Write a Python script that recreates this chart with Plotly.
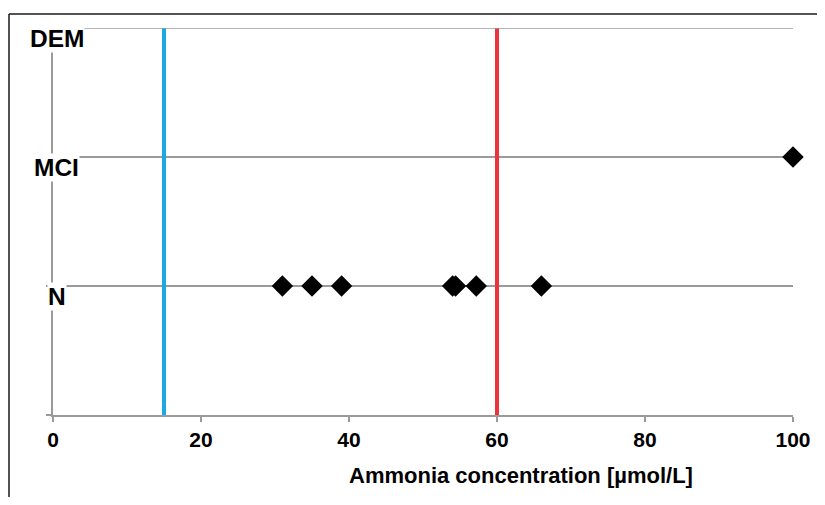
import plotly.graph_objects as go

categories = ["N", "MCI", "DEM"]
cat_pos = [1, 2, 3]
n_values = [31, 35, 39, 54, 54.4, 57.2, 66]
mci_values = [100]
dem_values = []
lower_limit = 15
upper_limit = 60
x_ticks = [0, 20, 40, 60, 80, 100]
x_title = "Ammonia concentration [µmol/L]"

FONT = "Liberation Sans, Arial, sans-serif"

# figure sits at an 8px page offset; geometry in figure pixels
W, H = 809, 489
L, R, T, B = 45, 24, 20, 82
PW, PH = W - L - R, H - T - B

fig = go.Figure()

# threshold lines
fig.add_trace(go.Scatter(x=[lower_limit, lower_limit], y=[0, 3], mode="lines",
                         line=dict(color="#1BA9E1", width=4), showlegend=False, hoverinfo="skip"))
fig.add_trace(go.Scatter(x=[upper_limit, upper_limit], y=[0, 3], mode="lines",
                         line=dict(color="#EE3338", width=4), showlegend=False, hoverinfo="skip"))

# top category gridline (plotly skips the gridline on the range edge)
fig.add_trace(go.Scatter(x=[0, 100], y=[cat_pos[2], cat_pos[2]], mode="lines",
                         line=dict(color="#9a9a9a", width=1.5), showlegend=False,
                         hoverinfo="skip", cliponaxis=False))

marker = dict(symbol="diamond", size=16.5, color="black")
fig.add_trace(go.Scatter(x=n_values, y=[cat_pos[0]] * len(n_values), mode="markers",
                         marker=marker, showlegend=False, cliponaxis=False))
fig.add_trace(go.Scatter(x=mci_values, y=[cat_pos[1]] * len(mci_values), mode="markers",
                         marker=marker, showlegend=False, cliponaxis=False))

for lab, pos in zip(categories, cat_pos):
    fig.add_annotation(x=0.5, y=pos, xref="x", yref="y", text=f"<b>{lab}</b>",
                       showarrow=False, xanchor="center", yanchor="middle", yshift=-10,
                       font=dict(family=FONT, size=24.5, color="black"),
                       bgcolor="white", borderpad=0)

fig.add_annotation(x=(513 - L) / PW, y=(PH - (468 - T)) / PH, xref="paper", yref="paper",
                   text=f"<b>{x_title}</b>", showarrow=False, xanchor="center", yanchor="middle",
                   font=dict(family=FONT, size=22, color="black"))

# partial frame (top and left)
fx = (1 - L) / PW
fy = (PH - (6 - T)) / PH
fig.add_shape(type="line", xref="paper", yref="paper", x0=fx, x1=1.1,
              y0=fy, y1=fy, line=dict(color="#1a1a1a", width=1.5))
fig.add_shape(type="line", xref="paper", yref="paper", x0=fx, x1=fx,
              y0=fy, y1=-0.3, line=dict(color="#1a1a1a", width=1.5))

fig.update_xaxes(range=[0, 100], tickvals=x_ticks, ticktext=[f"<b>{t}</b>" for t in x_ticks],
                 tickfont=dict(family=FONT, size=21, color="black"), automargin=False,
                 showgrid=False, zeroline=False, showline=True, linecolor="#9a9a9a", linewidth=1.5,
                 ticks="outside", ticklen=5, tickcolor="#9a9a9a", tickwidth=1.5)
fig.update_yaxes(range=[0, 3], tickvals=[0, 1, 2, 3], showticklabels=False, automargin=False,
                 showgrid=True, gridcolor="#9a9a9a", gridwidth=1.5, zeroline=False,
                 showline=True, linecolor="#9a9a9a", linewidth=1.5,
                 ticks="outside", ticklen=5, tickcolor="#9a9a9a", tickwidth=1.5)

fig.update_layout(width=W, height=H, margin=dict(l=L, r=R, t=T, b=B),
                  paper_bgcolor="white", plot_bgcolor="white",
                  font=dict(family=FONT, color="black"))

fig.write_html("out.html")
